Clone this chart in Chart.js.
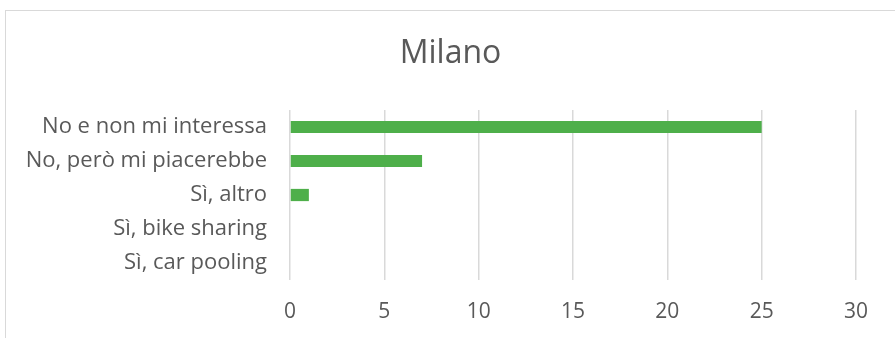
<!DOCTYPE html>
<html>
<head>
<meta charset="utf-8">
<script src="https://cdn.jsdelivr.net/npm/chart.js@4"></script>
<style>
  html, body { margin: 0; padding: 0; background: #fff; }
  #wrap { position: relative; width: 895px; height: 338px; overflow: hidden; }
  #frame { position: absolute; left: 5px; top: 10px; width: 900px; height: 340px;
           border: 1.5px solid #d9d9d9; box-sizing: border-box; }
  canvas { position: absolute; left: 0; top: 0; }
</style>
</head>
<body>
<div id="wrap">
  <div id="frame"></div>
  <canvas id="c" width="895" height="338"></canvas>
</div>
<script>
const chartTitle = 'Milano';
const categories = [
  'No e non mi interessa',
  'No, però mi piacerebbe',
  'Sì, altro',
  'Sì, bike sharing',
  'Sì, car pooling'
];
const counts = [25, 7, 1, 0, 0];
const axisMin = 0;
const axisMax = 30;
const axisStep = 5;

const textColor = '#595959';
const fontFamily = '"Open Sans", "Noto Sans", sans-serif';

new Chart(document.getElementById('c'), {
  type: 'bar',
  data: {
    labels: categories,
    datasets: [{
      data: counts,
      backgroundColor: '#4EAF4A',
      borderWidth: 0,
      categoryPercentage: 1,
      barPercentage: 0.36
    }]
  },
  options: {
    indexAxis: 'y',
    responsive: false,
    animation: false,
    layout: { padding: { left: 45, right: 39, top: 16, bottom: 14 } },
    plugins: {
      legend: { display: false },
      tooltip: { enabled: false },
      title: {
        display: true,
        text: chartTitle,
        color: textColor,
        font: { family: fontFamily, size: 32, weight: 'normal' },
        padding: { top: 19, bottom: 36.6 }
      }
    },
    scales: {
      x: {
        min: axisMin,
        max: axisMax,
        afterFit: (scale) => { scale.height = 44; },
        ticks: {
          stepSize: axisStep,
          color: textColor,
          font: { family: fontFamily, size: 21 },
          padding: 19
        },
        grid: { color: '#d9d9d9', lineWidth: 1.5, drawTicks: false },
        border: { display: false }
      },
      y: {
        afterFit: (scale) => {
          scale.width = 245;
          scale.paddingTop = 0;
          scale.paddingBottom = 0;
        },
        ticks: {
          color: textColor,
          font: { family: fontFamily, size: 22 },
          padding: 23
        },
        grid: { display: false, drawTicks: false },
        border: { display: false }
      }
    }
  },
  plugins: [{
    // let the long category labels extend left of the axis box without clipping
    id: 'labelRoom',
    afterLayout(chart) { chart.scales.y.left = 0; }
  }]
});
</script>
</body>
</html>
